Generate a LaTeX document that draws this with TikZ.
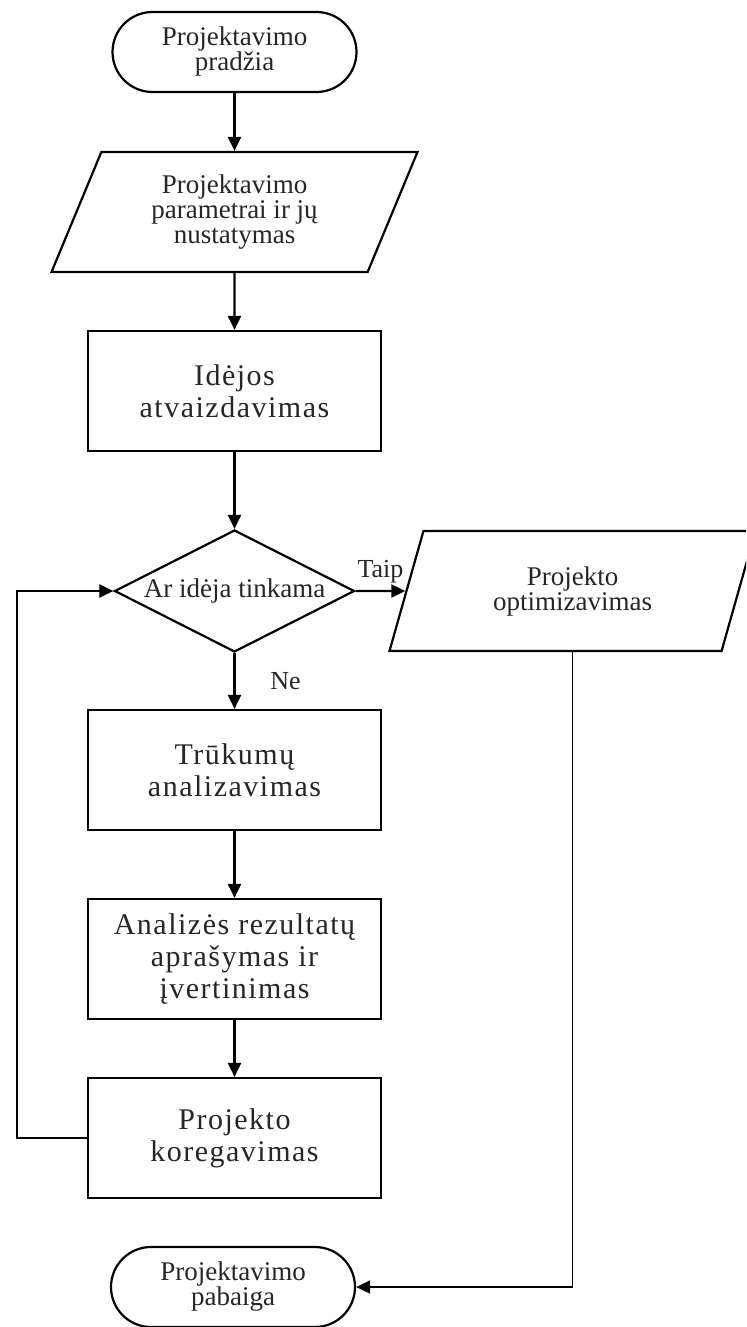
\documentclass[tikz,border=0pt]{standalone}
\usepackage{fontspec}
\setmainfont{Liberation Serif}
\newfontfamily\bigserif[LetterSpace=5]{Liberation Serif}
\usetikzlibrary{arrows.meta,positioning,shapes.geometric}
\tikzset{
  base/.style={
    draw,
    line width=1.1pt,
    align=center,
    text=black!85,
    inner sep=1pt,
    font=\fontsize{13.5}{12.5}\selectfont
  },
  terminal/.style={base,rounded corners=20pt,minimum width=122pt,minimum height=40pt},
  datain/.style={base,trapezium,trapezium left angle=57.6,trapezium right angle=122.4,
                 trapezium stretches body,minimum width=183pt,minimum height=60pt},
  process/.style={base,minimum width=146.5pt,minimum height=60pt,
                  font=\bigserif\fontsize{15}{16}\selectfont},
  decision/.style={base,diamond,shape aspect=2,minimum width=120pt,minimum height=61pt,inner sep=0pt},
  flow/.style={-{Triangle[length=7pt,width=6.5pt]},line width=1.1pt},
  thinflow/.style={flow,line width=0.8pt},
  branch/.style={font=\fontsize{13}{13}\selectfont,text=black!85}
}

\begin{document}
\begin{tikzpicture}[x=0.5pt,y=-0.5pt]
  \useasboundingbox (0,0) rectangle (746,1327);
  \clip (0,0) rectangle (746,1327);

  % Start and parameters.
  \node[terminal] (start) at (234.5,52) {Projektavimo\\pradžia};
  \node[datain] (param) at (234.5,212) {Projektavimo\\parametrai ir jų\\nustatymas};
  \node[process] (idea) at (234.5,391) {Idėjos\\atvaizdavimas};
  \draw[flow] (start) -- (param);
  \draw[flow] (param) -- (idea);

  % Decision.
  \node[decision] (check) at (234.5,591) {Ar idėja tinkama};
  \node[datain] (optim) at (572.5,591) {Projekto\\optimizavimas};
  \draw[flow] (idea) -- (check);
  \draw[flow] (check.east) -- node[branch,above]{Taip} (optim.west);

  % Correction loop.
  \node[process] (flaws) at (234.5,770) {Trūkumų\\analizavimas};
  \node[process] (eval) at (234.5,959) {Analizės rezultatų\\aprašymas ir\\įvertinimas};
  \node[process] (fix) at (234.5,1138) {Projekto\\koregavimas};
  \draw[flow] (check.south) -- node[branch,right=14pt]{Ne} (flaws.north);
  \draw[flow] (flaws) -- (eval);
  \draw[flow] (eval) -- (fix);
  \draw[flow] (fix.west) -- ++(-70,0) |- (check.west);

  % End.
  \node[terminal] (finish) at (233,1287) {Projektavimo\\pabaiga};
  \draw[thinflow] (optim.south) |- (finish.east);
\end{tikzpicture}
\end{document}
